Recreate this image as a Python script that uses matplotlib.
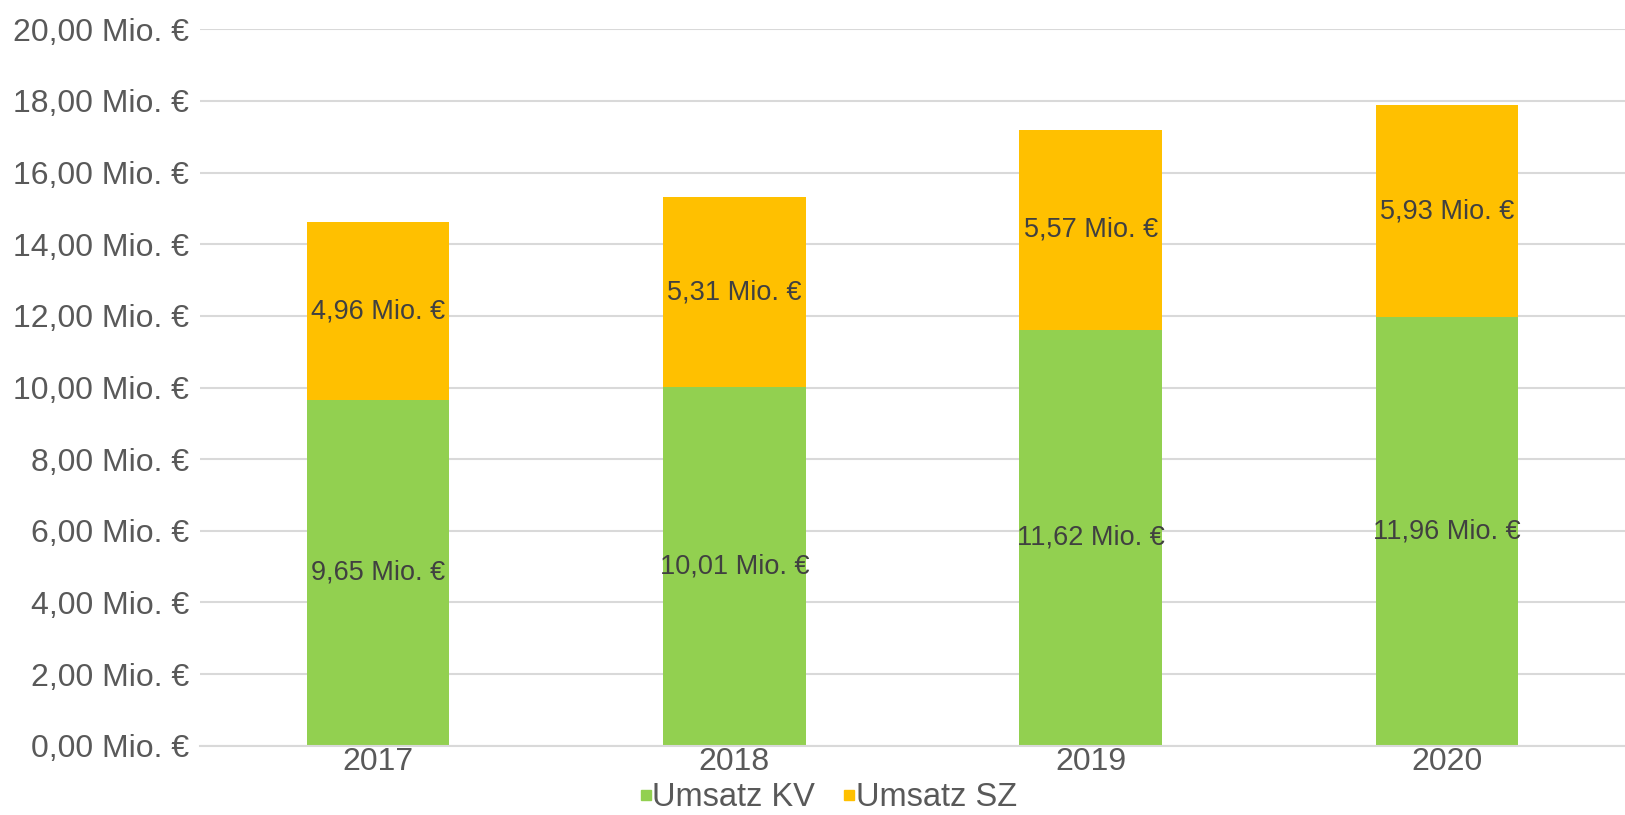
import matplotlib.pyplot as plt
import numpy as np
from matplotlib.lines import Line2D

years = ["2017", "2018", "2019", "2020"]
umsatz_kv = [9.65, 10.01, 11.62, 11.96]
umsatz_sz = [4.96, 5.31, 5.57, 5.93]
y_ticks = np.arange(0, 21, 2)

GREEN = "#92D050"
ORANGE = "#FFC000"
GRID = "#D9D9D9"
TICK_COLOR = "#595959"
LABEL_COLOR = "#404040"


def fmt(v):
    return f"{v:.2f}".replace(".", ",") + " Mio. €"


plt.rcParams["font.family"] = ["Liberation Sans", "DejaVu Sans"]

fig = plt.figure(figsize=(16.25, 8.15), dpi=100)
ax = fig.add_axes([0.123, 0.085, 0.877, 0.879])

x = np.arange(len(years))
kv = np.array(umsatz_kv)
sz = np.array(umsatz_sz)
ax.bar(x, kv, width=0.4, color=GREEN, zorder=2)
ax.bar(x, sz, width=0.4, bottom=kv, color=ORANGE, zorder=2)

for i in range(len(years)):
    ax.text(x[i], kv[i] / 2, fmt(kv[i]), ha="center", va="center",
            fontsize=19.5, color=LABEL_COLOR, zorder=3)
    ax.text(x[i], kv[i] + sz[i] / 2, fmt(sz[i]), ha="center", va="center",
            fontsize=19.5, color=LABEL_COLOR, zorder=3)

ax.set_xlim(-0.5, len(years) - 0.5)
ax.set_ylim(0, 20)
ax.set_yticks(y_ticks)
ax.set_yticklabels([fmt(v) for v in y_ticks])
ax.set_xticks(x)
ax.set_xticklabels(years)
ax.tick_params(axis="both", length=0, labelsize=23, colors=TICK_COLOR)
ax.tick_params(axis="y", pad=8)
ax.tick_params(axis="x", pad=1)
ax.grid(axis="y", color=GRID, linewidth=1.5, zorder=0)
for s in ["top", "right", "left"]:
    ax.spines[s].set_visible(False)
ax.spines["bottom"].set_color(GRID)
ax.spines["bottom"].set_linewidth(1.5)

handles = [
    Line2D([], [], marker="s", linestyle="none", markersize=7, color=GREEN),
    Line2D([], [], marker="s", linestyle="none", markersize=7, color=ORANGE),
]
leg = fig.legend(handles, ["Umsatz KV", "Umsatz SZ"], loc="lower center",
                 bbox_to_anchor=(0.51, -0.034), ncol=2, frameon=False,
                 fontsize=23.5, handlelength=0.3, handletextpad=0.05,
                 columnspacing=0.9, labelcolor=TICK_COLOR)

fig.savefig("out.png", dpi=100)
plt.close(fig)
